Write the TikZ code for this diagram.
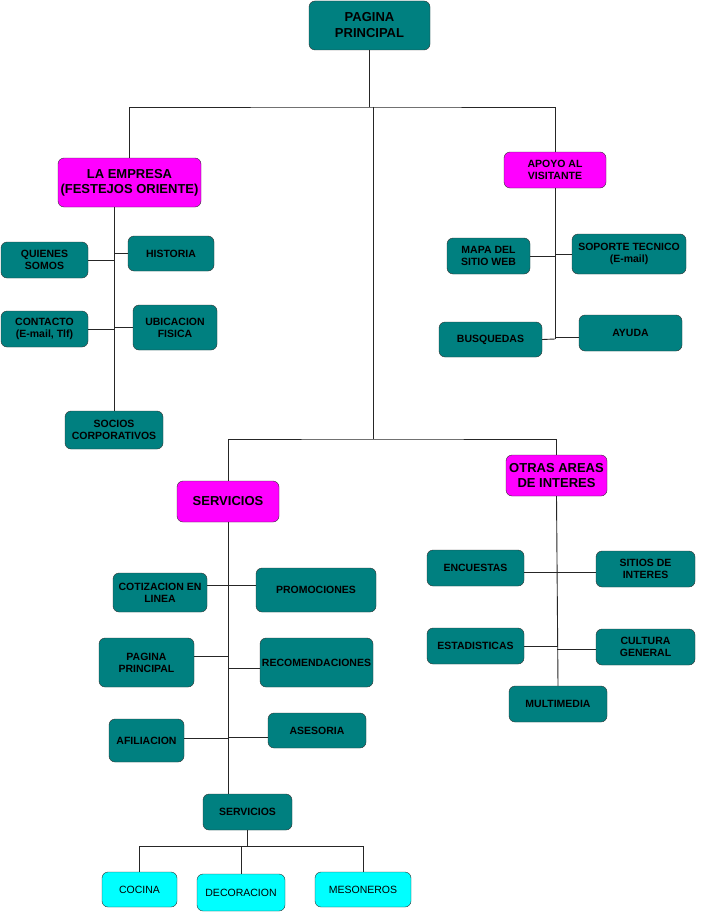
\documentclass[tikz,border=0pt]{standalone}
\usepackage{fontspec}
\setmainfont{Liberation Sans}
\usepackage{xcolor}
\usepackage{tikz}

\definecolor{tealbox}{RGB}{0,128,128}
\definecolor{magentabox}{RGB}{255,0,255}
\definecolor{cyanbox}{RGB}{0,255,255}

\begin{document}
\begin{tikzpicture}[x=1pt,y=-1pt]
    \tikzstyle{pagebox} = [rectangle, rounded corners=6pt, draw=black!80, fill=tealbox, inner sep=0pt, align=center, font=\bfseries\fontsize{10.5}{12}\selectfont]
    \tikzstyle{sectionbox} = [pagebox, fill=magentabox, font=\bfseries\fontsize{13}{15}\selectfont]
    \tikzstyle{subbox} = [pagebox, fill=cyanbox, font=\fontsize{10.5}{12}\selectfont]
    \tikzstyle{conn} = [draw=black!85, line width=0.9pt]

    \useasboundingbox[fill=white] (0,0) rectangle (706,923);

    % Main page
    \node[sectionbox, fill=tealbox, minimum width=121, minimum height=49, font=\bfseries\fontsize{13}{16}\selectfont] (pp) at (369.5,25.5) {PAGINA\\PRINCIPAL};

    % Sections
    \node[sectionbox, minimum width=143, minimum height=49] (empresa) at (129.5,182.5) {LA EMPRESA\\(FESTEJOS ORIENTE)};
    \node[sectionbox, minimum width=102, minimum height=36, font=\bfseries\fontsize{10.5}{12}\selectfont] (apoyo) at (555,170) {APOYO AL\\VISITANTE};
    \node[sectionbox, minimum width=102, minimum height=41] (servicios) at (228,501.5) {SERVICIOS};
    \node[sectionbox, minimum width=101, minimum height=41] (otras) at (556.5,475.5) {OTRAS AREAS\\DE INTERES};

    % La empresa
    \node[pagebox, minimum width=87, minimum height=36] (quienes) at (44.5,260) {QUIENES\\SOMOS};
    \node[pagebox, minimum width=86, minimum height=35] (historia) at (171,253.5) {HISTORIA};
    \node[pagebox, minimum width=87, minimum height=36] (contacto) at (44.5,329) {CONTACTO\\(E-mail, Tlf)};
    \node[pagebox, minimum width=84, minimum height=45] (ubicacion) at (175,327.5) {UBICACION\\FISICA};
    \node[pagebox, minimum width=98, minimum height=38] (socios) at (114,430) {SOCIOS\\CORPORATIVOS};

    % Apoyo al visitante
    \node[pagebox, minimum width=83, minimum height=36] (mapa) at (488.5,256) {MAPA DEL\\SITIO WEB};
    \node[pagebox, minimum width=114, minimum height=40] (soporte) at (629,254) {SOPORTE TECNICO\\(E-mail)};
    \node[pagebox, minimum width=103, minimum height=35] (busquedas) at (490.5,339.5) {BUSQUEDAS};
    \node[pagebox, minimum width=103, minimum height=36] (ayuda) at (630.5,333) {AYUDA};

    % Servicios
    \node[pagebox, minimum width=94, minimum height=39] (cotizacion) at (160,592.5) {COTIZACION EN\\LINEA};
    \node[pagebox, minimum width=120, minimum height=44] (promociones) at (316,590) {PROMOCIONES};
    \node[pagebox, minimum width=95, minimum height=49] (pagina) at (146.5,662.5) {PAGINA\\PRINCIPAL};
    \node[pagebox, minimum width=113, minimum height=49] (recomendaciones) at (316.5,662.5) {RECOMENDACIONES};
    \node[pagebox, minimum width=75, minimum height=43] (afiliacion) at (146.5,740.5) {AFILIACION};
    \node[pagebox, minimum width=98, minimum height=35] (asesoria) at (317,730.5) {ASESORIA};
    \node[pagebox, minimum width=89, minimum height=36] (serv) at (247.5,812) {SERVICIOS};
    \node[subbox, minimum width=75, minimum height=35] (cocina) at (139.5,889.5) {COCINA};
    \node[subbox, minimum width=88, minimum height=37] (decoracion) at (241,892.5) {DECORACION};
    \node[subbox, minimum width=96, minimum height=35] (mesoneros) at (363,889.5) {MESONEROS};

    % Otras areas de interes
    \node[pagebox, minimum width=97, minimum height=36] (encuestas) at (475.5,568) {ENCUESTAS};
    \node[pagebox, minimum width=99, minimum height=36] (sitios) at (645.5,569) {SITIOS DE\\INTERES};
    \node[pagebox, minimum width=97, minimum height=36] (estadisticas) at (475.5,646) {ESTADISTICAS};
    \node[pagebox, minimum width=99, minimum height=36] (cultura) at (645.5,647) {CULTURA\\GENERAL};
    \node[pagebox, minimum width=98, minimum height=36] (multimedia) at (558,704) {MULTIMEDIA};

    % Main branches
    \coordinate (busTop) at (369.5,107);
    \coordinate (busMid) at (373,107);
    \coordinate (busLow) at (373,439);
    \draw[conn] (pp.south) -- (busTop);
    \draw[conn] (empresa.north) |- (busTop) -| (apoyo.north);
    \draw[conn] (busMid) -- (busLow);
    \draw[conn] (servicios.north) |- (busLow) -| (otras.north);

    % La empresa links
    \coordinate (empTop) at (114,207);
    \draw[conn] (empTop) -- (socios.north);
    \draw[conn] (quienes.east) -- (quienes.east -| empTop);
    \draw[conn] (historia.west) -- (historia.west -| empTop);
    \draw[conn] (contacto.east) -- (contacto.east -| empTop);
    \draw[conn] (ubicacion.west) -- (ubicacion.west -| empTop);

    % Apoyo links
    \coordinate (apoyoEnd) at (555,339);
    \draw[conn] (apoyo.south) -- (apoyoEnd);
    \draw[conn] (mapa.east) -- (mapa.east -| apoyoEnd);
    \draw[conn] (soporte.west) -- (soporte.west -| apoyoEnd);
    \draw[conn] (busquedas.east) -- (apoyoEnd);
    \draw[conn] ([yshift=-4pt]ayuda.west) -- ([yshift=-4pt]ayuda.west -| apoyoEnd);

    % Servicios links
    \draw[conn] (servicios.south) -- (servicios.south |- serv.north);
    \draw[conn] ([yshift=7pt]cotizacion.east) -- ([yshift=7pt]cotizacion.east -| servicios.south);
    \draw[conn] ([yshift=5pt]promociones.west) -- ([yshift=5pt]promociones.west -| servicios.south);
    \draw[conn] ([yshift=6pt]pagina.east) -- ([yshift=6pt]pagina.east -| servicios.south);
    \draw[conn] ([yshift=-6pt]recomendaciones.west) -- ([yshift=-6pt]recomendaciones.west -| servicios.south);
    \draw[conn] ([yshift=2pt]afiliacion.east) -- ([yshift=2pt]afiliacion.east -| servicios.south);
    \draw[conn] ([yshift=-7pt]asesoria.west) -- ([yshift=-7pt]asesoria.west -| servicios.south);
    \coordinate (servBus) at (247.5,846);
    \draw[conn] (serv.south) -- (servBus);
    \draw[conn] (cocina.north) |- (servBus) -| (mesoneros.north);
    \draw[conn] (decoracion.north) -- (decoracion.north |- servBus);

    % Otras links
    \draw[conn] (otras.south) -- (multimedia.north);
    \draw[conn] ([yshift=-4pt]encuestas.east) -- ([yshift=-4pt]encuestas.east -| otras.south);
    \draw[conn] ([yshift=-3pt]sitios.west) -- ([yshift=-3pt]sitios.west -| otras.south);
    \draw[conn] (estadisticas.east) -- (estadisticas.east -| otras.south);
    \draw[conn] ([yshift=-2pt]cultura.west) -- ([yshift=-2pt]cultura.west -| otras.south);
\end{tikzpicture}
\end{document}
